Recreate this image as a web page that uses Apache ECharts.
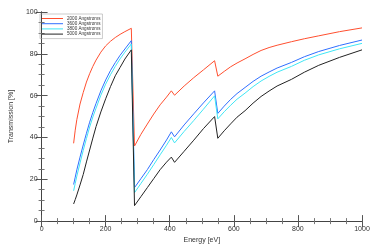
<!DOCTYPE html>
<html><head><meta charset="utf-8">
<script src="https://cdn.jsdelivr.net/npm/echarts@6/dist/echarts.min.js"></script>
<style>html,body{margin:0;padding:0;background:#fff}#c{width:374px;height:249px}</style>
</head><body><div id="c"></div>
<script>
const energy = [100,105,110,120,130,140,150,160,170,185,200,215,230,245,260,280,290,310,330,350,370,390,405,415,445,475,505,540,550,570,590,610,635,660,685,710,735,780,820,865,930,1000];
const seriesNames = ['2000 Angstroms','3600 Angstroms','3800 Angstroms','5000 Angstroms'];
const t2000 = [37.2,43.5,48.5,56.0,61.5,66.5,70.5,74.0,77.0,80.8,83.8,86.0,87.8,89.3,90.6,92.2,35.9,41.5,46.4,51.2,55.6,59.3,62.3,60.2,64.6,68.6,72.3,76.7,69.3,71.6,73.8,75.6,77.6,79.7,81.6,83.0,84.1,85.8,87.2,88.6,90.6,92.4];
const t3600 = [17.5,21.0,24.5,30.6,36.4,42.0,47.3,52.0,56.3,62.3,67.5,72.0,75.8,79.3,82.3,86.3,16.0,20.3,24.6,29.4,34.0,38.8,42.7,40.3,46.0,51.3,56.5,62.3,51.5,55.0,58.2,61.0,63.9,66.8,69.3,71.3,73.2,75.9,78.6,81.1,84.0,86.6];
const t3800 = [14.5,18.0,21.5,27.8,33.8,39.5,45.0,49.8,54.0,60.2,65.5,70.0,74.0,77.6,80.8,84.7,13.6,18.0,22.4,27.0,31.7,36.3,40.0,37.4,42.9,48.1,53.5,59.9,48.9,52.3,55.4,58.3,61.2,64.3,67.0,69.2,71.2,74.0,76.9,79.5,82.4,85.0];
const t5000 = [8.2,10.3,12.5,17.3,22.3,28.3,34.0,39.7,45.2,52.2,58.5,64.3,69.5,73.5,77.5,81.9,7.4,11.7,16.0,20.3,24.6,28.2,30.6,28.1,33.4,38.7,44.2,50.0,39.6,43.2,46.5,49.7,52.8,56.4,59.6,62.2,64.6,67.8,71.2,74.5,78.3,81.9];
const colors = ['#ff4f2f','#2f6fff','#3fe6f5','#222222'];
const allT = [t2000,t3600,t3800,t5000];

const chart = echarts.init(document.getElementById('c'));
const axLine = {show:true, lineStyle:{color:'#444', width:1}};
const tick = {show:true, inside:true, length:6, lineStyle:{color:'#555'}};
const minor = {show:true, splitNumber:4, length:3, lineStyle:{color:'#777'}};
const font = 'Liberation Sans';
chart.setOption({
  animation:false,
  grid:{left:38, right:12, top:12, bottom:25},
  legend:{
    left:40, top:14, orient:'vertical', itemWidth:21, itemHeight:1, itemGap:0.2,
    padding:[2,2,2,2], borderColor:'#aaa', borderWidth:0.6,
    icon:'rect', textStyle:{fontSize:4.6, lineHeight:4.6, fontFamily:font, color:'#333', padding:[0,0,0,-1]},
    data: seriesNames
  },
  xAxis:[
    {type:'value', min:0, max:1000, interval:200, axisLine:axLine, axisTick:tick, minorTick:minor,
     splitLine:{show:false}, axisLabel:{fontSize:7, fontFamily:font, color:'#333', margin:4, formatter:v=>String(v)},
     name:'Energy [eV]', nameLocation:'middle', nameGap:13, nameTextStyle:{fontSize:7, fontFamily:font, color:'#333'}},
    {type:'value', position:'top', min:0, max:1000, interval:200, axisLine:axLine, axisTick:tick, minorTick:minor,
     splitLine:{show:false}, axisLabel:{show:false}}
  ],
  yAxis:[
    {type:'value', min:0, max:100, interval:20, axisLine:axLine, axisTick:tick, minorTick:minor,
     splitLine:{show:false}, axisLabel:{fontSize:7, fontFamily:font, color:'#333', margin:4},
     name:'Transmission [%]', nameLocation:'middle', nameGap:20, nameTextStyle:{fontSize:7, fontFamily:font, color:'#333'}},
    {type:'value', position:'right', min:0, max:100, interval:20, axisLine:axLine, axisTick:tick, minorTick:minor,
     splitLine:{show:false}, axisLabel:{show:false}}
  ],
  series: seriesNames.map((n,i)=>({
    name:n, type:'line', symbol:'none', color:colors[i],
    lineStyle:{width:1, color:colors[i]},
    data: energy.map((e,j)=>[e, allT[i][j]])
  }))
});
</script></body></html>
